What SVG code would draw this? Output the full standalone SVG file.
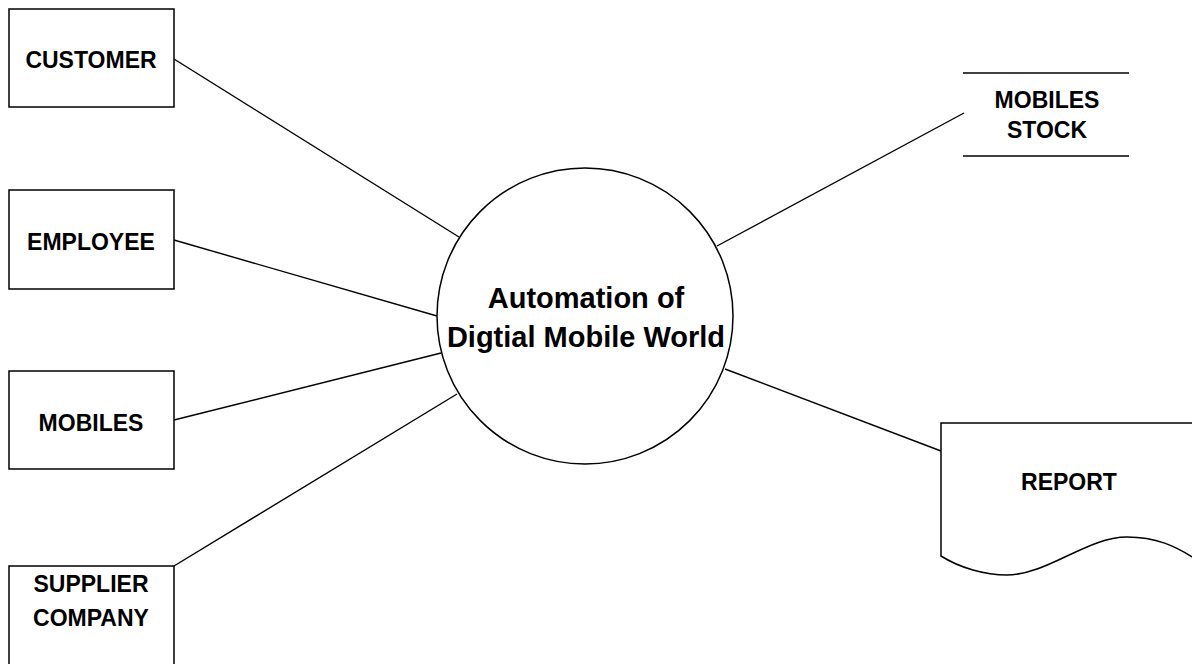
<svg xmlns="http://www.w3.org/2000/svg" width="1192" height="664" viewBox="0 0 1192 664">
<style>
.shape{fill:#fff;stroke:#000;stroke-width:1.5}
.ln{fill:none;stroke:#000;stroke-width:1.4}
.t{font-family:"Liberation Sans",Arial,sans-serif;font-weight:bold;font-size:23px;fill:#000;text-anchor:middle}
.tc{font-family:"Liberation Sans",Arial,sans-serif;font-weight:bold;font-size:29px;fill:#000;text-anchor:middle}
</style>
<rect width="1192" height="664" fill="#fff"/>
<g id="connectors">
<line class="ln" x1="174" y1="59" x2="459" y2="237"/>
<line class="ln" x1="174" y1="240" x2="437" y2="316"/>
<line class="ln" x1="174" y1="420" x2="441" y2="353"/>
<line class="ln" x1="174" y1="566" x2="457" y2="394"/>
<line class="ln" x1="717" y1="246" x2="964" y2="113"/>
<line class="ln" x1="725" y1="369" x2="941" y2="451"/>
</g>
<g id="process">
<circle class="shape" cx="585" cy="316" r="148"/>
<text class="tc" x="586" y="308">Automation of</text>
<text class="tc" x="586" y="347">Digtial Mobile World</text>
</g>
<g id="customer">
<rect class="shape" x="9" y="9" width="165" height="98"/>
<text class="t" x="91" y="68">CUSTOMER</text>
</g>
<g id="employee">
<rect class="shape" x="9" y="190" width="165" height="99"/>
<text class="t" x="91" y="250">EMPLOYEE</text>
</g>
<g id="mobiles">
<rect class="shape" x="9" y="371" width="165" height="98"/>
<text class="t" x="91" y="431">MOBILES</text>
</g>
<g id="supplier">
<rect class="shape" x="9" y="566" width="165" height="100"/>
<text class="t" x="91" y="592">SUPPLIER</text>
<text class="t" x="91" y="626">COMPANY</text>
</g>
<g id="mobiles-stock">
<line class="ln" x1="963" y1="73" x2="1129" y2="73"/>
<line class="ln" x1="963" y1="156" x2="1129" y2="156"/>
<text class="t" x="1047" y="108">MOBILES</text>
<text class="t" x="1047" y="138">STOCK</text>
</g>
<g id="report">
<path class="shape" d="M1200,423 L941,423 L941,556 C960,568 985,575 1007,575 C1047,575 1087,537 1127,537 C1155,537 1175,545 1200,562"/>
<text class="t" x="1069" y="490">REPORT</text>
</g>
</svg>
